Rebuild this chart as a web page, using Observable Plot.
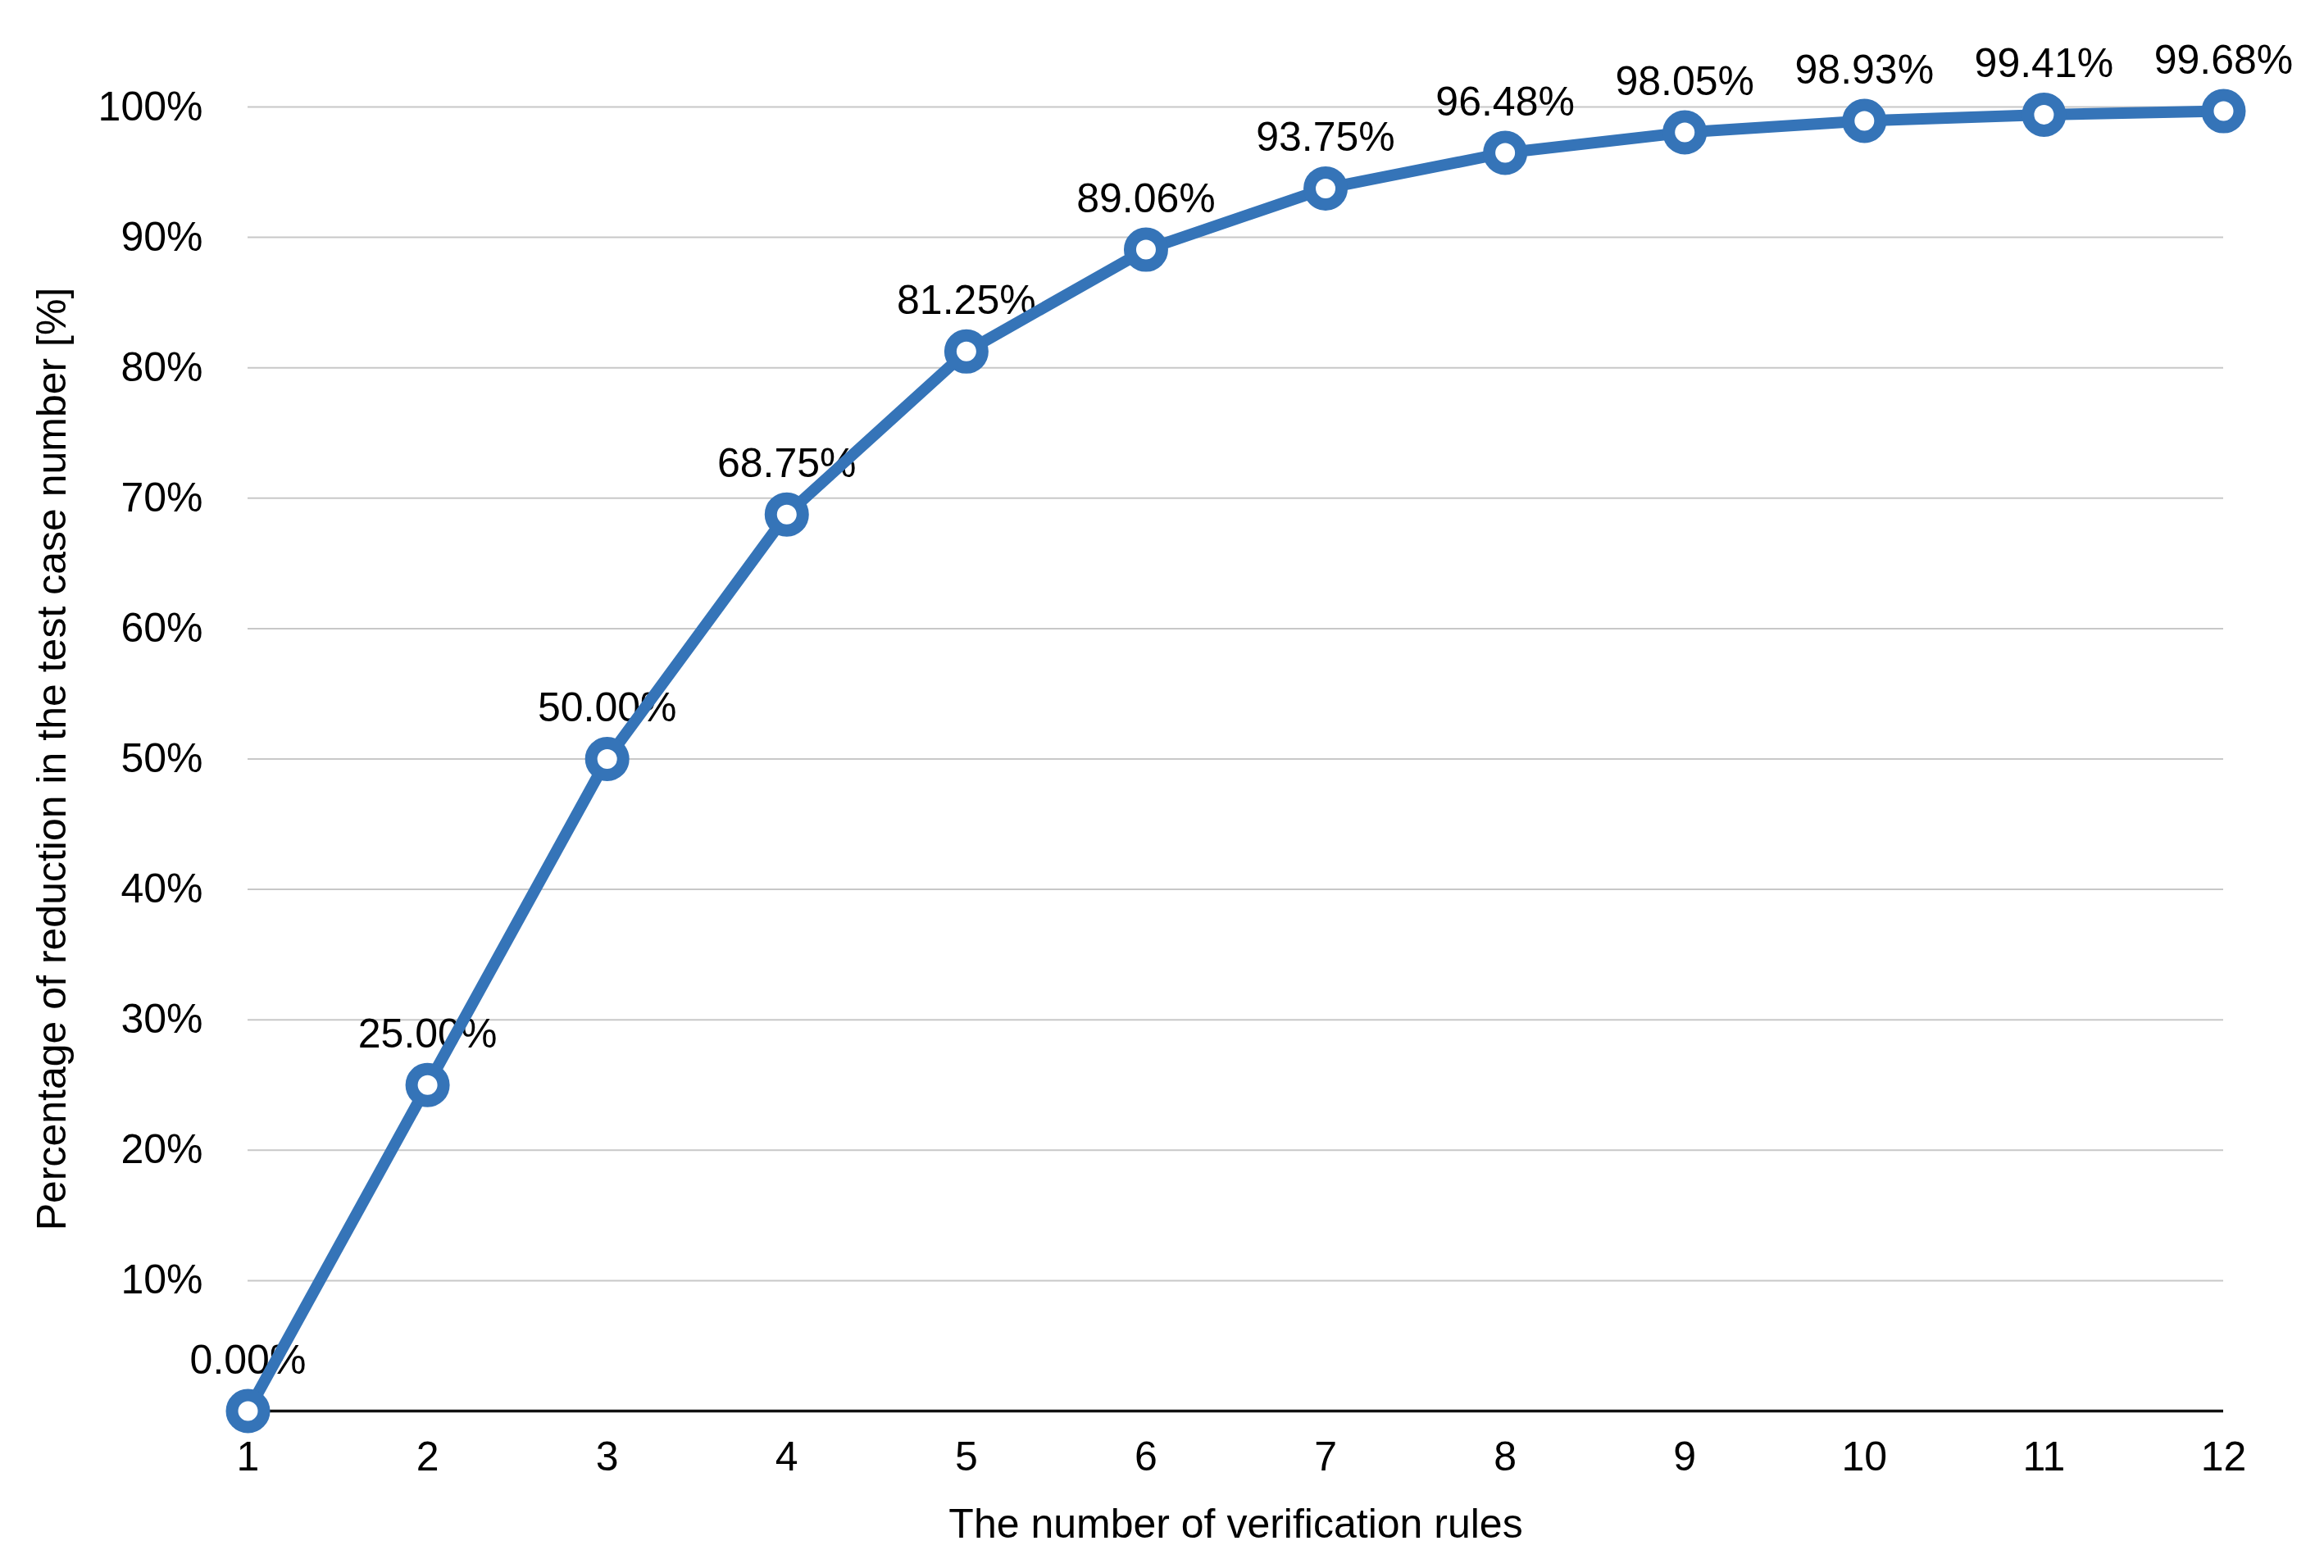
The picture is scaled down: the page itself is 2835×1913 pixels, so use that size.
<!DOCTYPE html>
<html>
<head>
<meta charset="utf-8">
<script src="https://cdn.jsdelivr.net/npm/d3@7"></script>
<script src="https://cdn.jsdelivr.net/npm/@observablehq/plot@0.6"></script>
<style>
  html, body { margin: 0; padding: 0; background: #fff; }
  svg { display: block; }
</style>
</head>
<body>
<div id="chart"></div>
<script>
const rules = [1, 2, 3, 4, 5, 6, 7, 8, 9, 10, 11, 12];
const reduction = [0.00, 25.00, 50.00, 68.75, 81.25, 89.06, 93.75, 96.48, 98.05, 98.93, 99.41, 99.68];
const yTicks = [10, 20, 30, 40, 50, 60, 70, 80, 90, 100];
const xTitle = "The number of verification rules";
const yTitle = "Percentage of reduction in the test case number [%]";

const data = rules.map((r, i) => ({rule: r, value: reduction[i]}));
const blue = "#3574b8";
const font = "'Liberation Sans', Arial, Helvetica, sans-serif";

const chart = Plot.plot({
  width: 2835,
  height: 1913,
  marginLeft: 302,
  marginRight: 123,
  marginTop: 130,
  marginBottom: 192,
  style: {fontFamily: font, background: "#fff", color: "#000"},
  x: {domain: [1, 12]},
  y: {domain: [0, 100]},
  marks: [
    Plot.gridY(yTicks, {stroke: "#c8c8c8", strokeOpacity: 1, strokeWidth: 2}),
    Plot.ruleY([0], {stroke: "#111", strokeWidth: 3.5}),
    Plot.axisY(yTicks, {
      tickSize: 0, tickPadding: 55, fontSize: 50,
      tickFormat: d => d + "%",
      label: yTitle, labelAnchor: "center", labelArrow: "none", labelOffset: 258
    }),
    Plot.axisX(rules, {
      tickSize: 0, tickPadding: 37, fontSize: 50,
      tickFormat: d => String(d),
      label: xTitle, labelAnchor: "center", labelArrow: "none", labelOffset: 154
    }),
    Plot.text(data, {
      x: "rule", y: "value",
      text: d => d.value.toFixed(2) + "%",
      dy: -46, lineAnchor: "bottom", fontSize: 50, fill: "#000"
    }),
    Plot.line(data, {x: "rule", y: "value", stroke: blue, strokeWidth: 14, strokeLinejoin: "round"}),
    Plot.dot(data, {x: "rule", y: "value", r: 19.5, stroke: blue, strokeWidth: 15, fill: "#fff"})
  ]
});
document.getElementById("chart").appendChild(chart);
</script>
</body>
</html>
